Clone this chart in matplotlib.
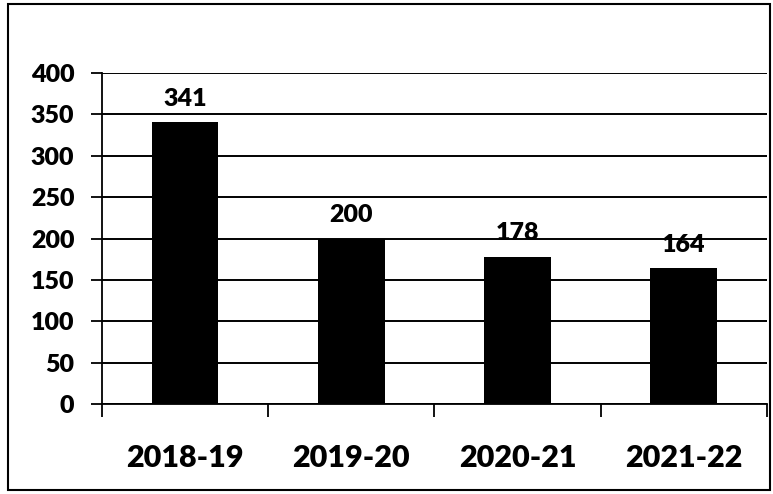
import matplotlib
matplotlib.use("Agg")
import matplotlib.pyplot as plt
from matplotlib.patches import Rectangle
import numpy as np

categories = ["2018-19", "2019-20", "2020-21", "2021-22"]
values = [341, 200, 178, 164]
yticks = [0, 50, 100, 150, 200, 250, 300, 350, 400]

plt.rcParams['font.family'] = ['Lato', 'DejaVu Sans']

fig = plt.figure(figsize=(7.73, 4.94), dpi=100)
ax = fig.add_axes([0.132, 0.182, 0.860, 0.670])

x = np.arange(len(categories))
ax.bar(x, values, width=0.4, color='black', zorder=3)
for xi, v in zip(x, values):
    ax.text(xi, v + 15, str(v), ha='center', va='bottom', fontsize=18, fontweight='heavy', zorder=4)

ax.set_xlim(-0.5, len(categories) - 0.5)
ax.set_ylim(0, 400)
ax.set_yticks(yticks)
ax.set_yticklabels([str(t) for t in yticks], fontsize=18, fontweight='heavy')
ax.tick_params(axis='y', direction='out', length=8, width=1.3, pad=12)

ax.set_xticks(np.arange(len(categories) + 1) - 0.5)
ax.set_xticklabels([])
ax.tick_params(axis='x', which='major', direction='out', length=9, width=1.3)
ax.set_xticks(x, minor=True)
ax.set_xticklabels(categories, minor=True, fontsize=22, fontweight='heavy')
ax.tick_params(axis='x', which='minor', length=0, pad=29)

ax.yaxis.grid(True, color='black', linewidth=1.4, zorder=0)
for s in ['top', 'right']:
    ax.spines[s].set_visible(False)
ax.spines['left'].set_linewidth(1.3)
ax.spines['bottom'].set_linewidth(1.3)

fig.patches.append(Rectangle((8 / 773, 4 / 494), 762 / 773, 486 / 494, transform=fig.transFigure,
                             fill=False, edgecolor='black', linewidth=1.5))

fig.savefig("out.png", dpi=100)
